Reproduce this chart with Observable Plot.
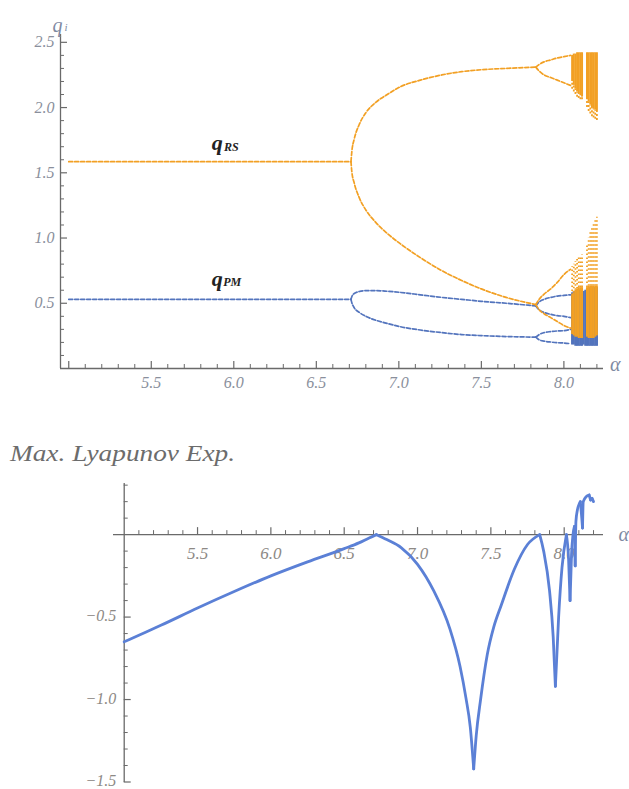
<!DOCTYPE html>
<html><head><meta charset="utf-8">
<script src="https://cdn.jsdelivr.net/npm/d3@7"></script>
<script src="https://cdn.jsdelivr.net/npm/@observablehq/plot@0.6"></script>
<style>
body{margin:0;background:#fff;width:629px;height:789px;overflow:hidden;position:relative}
#top{position:absolute;left:0;top:0}
#bot{position:absolute;left:0;top:470px}
#title{position:absolute;left:10px;top:441px;font-family:"Liberation Serif","Times New Roman","DejaVu Serif",serif;font-style:italic;font-size:24px;line-height:24px;color:#6c6c6c;white-space:nowrap;transform-origin:0 0}
svg{overflow:visible}
</style></head><body>
<div id="top"></div>
<div id="title">Max. Lyapunov Exp.</div>
<div id="bot"></div>
<script>
// ---------------- Top panel: bifurcation diagram (alpha, q) ----------------
const alphaStable = [5.0, 6.71];
const qRSStable = [1.585, 1.585];
const qPMStable = [0.53, 0.53];

const alphaP2 = [6.71, 6.715, 6.73, 6.76, 6.8, 6.86, 6.93, 7.01, 7.13, 7.26, 7.38, 7.5, 7.65, 7.83];
const qRSUpperP2 = [1.585, 1.66, 1.76, 1.87, 1.96, 2.04, 2.10, 2.16, 2.21, 2.25, 2.275, 2.29, 2.30, 2.31];
const qRSLowerP2 = [1.585, 1.51, 1.42, 1.31, 1.215, 1.12, 1.035, 0.955, 0.85, 0.75, 0.675, 0.61, 0.545, 0.49];
const qPMUpperP2 = [0.53, 0.55, 0.575, 0.59, 0.597, 0.597, 0.592, 0.583, 0.565, 0.545, 0.53, 0.515, 0.50, 0.48];
const qPMLowerP2 = [0.53, 0.505, 0.465, 0.43, 0.40, 0.37, 0.345, 0.32, 0.295, 0.275, 0.26, 0.252, 0.245, 0.24];

const alphaP4 = [7.83, 7.85, 7.88, 7.92, 7.96, 8.0, 8.04];
const qRS4a = [2.31, 2.33, 2.35, 2.365, 2.38, 2.39, 2.40];
const qRS4b = [2.31, 2.28, 2.25, 2.23, 2.21, 2.19, 2.17];
const qRS4c = [0.49, 0.53, 0.57, 0.61, 0.66, 0.72, 0.76];
const qRS4d = [0.49, 0.45, 0.42, 0.39, 0.36, 0.33, 0.31];
const qPM4a = [0.48, 0.51, 0.53, 0.545, 0.555, 0.56, 0.565];
const qPM4b = [0.48, 0.45, 0.43, 0.415, 0.405, 0.40, 0.39];
const qPM4c = [0.24, 0.26, 0.275, 0.283, 0.288, 0.29, 0.30];
const qPM4d = [0.24, 0.22, 0.21, 0.203, 0.198, 0.195, 0.19];

// chaotic band (range of visited q per alpha column)
const chaosAlphaRS = [8.05, 8.06, 8.07, 8.08, 8.09, 8.10, 8.11, 8.14, 8.15, 8.16, 8.17, 8.18, 8.19, 8.20];
const rsHiTop = [2.40, 2.41, 2.41, 2.42, 2.42, 2.42, 2.42, 2.42, 2.42, 2.42, 2.42, 2.42, 2.42, 2.42];
const rsHiDenseBot = [2.20, 2.17, 2.14, 2.12, 2.10, 2.09, 2.08, 2.06, 2.04, 2.02, 2.00, 1.99, 1.98, 1.97];
const rsHiBot = [2.14, 2.12, 2.10, 2.08, 2.07, 2.06, 2.06, 2.00, 1.97, 1.95, 1.93, 1.92, 1.91, 1.90];
const rsLoDenseTop = [0.56, 0.58, 0.60, 0.61, 0.62, 0.62, 0.62, 0.62, 0.63, 0.63, 0.63, 0.63, 0.63, 0.63];
const rsLoTop = [0.78, 0.80, 0.82, 0.84, 0.85, 0.86, 0.87, 0.95, 1.00, 1.04, 1.08, 1.11, 1.14, 1.16];
const rsLoBot = [0.26, 0.25, 0.24, 0.24, 0.23, 0.23, 0.23, 0.24, 0.23, 0.23, 0.23, 0.23, 0.24, 0.25];
const chaosAlphaPM = [8.05, 8.06, 8.07, 8.08, 8.09, 8.10, 8.11, 8.12, 8.13, 8.14, 8.15, 8.16, 8.17, 8.18, 8.19, 8.20];
const pmTop = [0.58, 0.59, 0.59, 0.60, 0.60, 0.60, 0.60, 0.59, 0.60, 0.61, 0.61, 0.62, 0.62, 0.62, 0.62, 0.62];
const pmBot = [0.18, 0.18, 0.17, 0.17, 0.17, 0.17, 0.17, 0.18, 0.17, 0.17, 0.17, 0.17, 0.17, 0.17, 0.17, 0.17];

const topXMajor = [5.0, 5.5, 6.0, 6.5, 7.0, 7.5, 8.0];
const topXLabels = ["5.5", "6.0", "6.5", "7.0", "7.5", "8.0"];
const topYMajor = [0.5, 1.0, 1.5, 2.0, 2.5];
const topYLabels = ["0.5", "1.0", "1.5", "2.0", "2.5"];

// ---------------- Bottom panel: max Lyapunov exponent ----------------
const lyapAlpha = [5.0,5.1,5.25,5.5,5.75,6.0,6.25,6.5,6.6,6.67,6.72,6.79,6.89,7.0,7.11,7.22,7.29,7.33,7.36,7.383,7.40,7.43,7.475,7.52,7.57,7.66,7.75,7.833,7.86,7.90,7.925,7.94,7.962,7.985,8.015,8.03,8.04,8.05,8.06,8.07,8.075,8.08,8.09,8.10,8.11,8.12,8.125,8.13,8.15,8.17,8.18,8.19,8.20];
const lyapValue = [-0.65,-0.61,-0.55,-0.445,-0.345,-0.25,-0.165,-0.085,-0.05,-0.02,0,-0.03,-0.08,-0.18,-0.34,-0.57,-0.80,-0.99,-1.17,-1.42,-1.22,-1.00,-0.73,-0.56,-0.43,-0.21,-0.06,0,-0.10,-0.34,-0.62,-0.92,-0.50,-0.20,0,-0.15,-0.40,-0.12,0,0.05,-0.19,0.08,0.15,0.18,0.2,0.1,0.04,0.2,0.23,0.24,0.21,0.22,0.20];

const botXMajor = [5.5, 6.0, 6.5, 7.0, 7.5, 8.0];
const botXLabels = ["5.5", "6.0", "6.5", "7.0", "7.5", "8.0"];
const botYMajor = [-1.5, -1.0, -0.5];
const botYLabels = ["\u22121.5", "\u22121.0", "\u22120.5"];

// ---------------- styles ----------------
const RS = "#f2a024", PM = "#5374bd", LY = "#5b80d6";
const AX = "#6a6a6a";
const SERIF = "'Liberation Serif', 'Times New Roman', 'DejaVu Serif', serif";
const LABTOP = "#8a8f9c", LABBOT = "#8d8985";

const pts = (A, Q) => A.map((a, i) => ({a, q: Q[i]}));
const branch = (A, Q, color) => Plot.line(pts(A, Q), {x: "a", y: "q", stroke: color, strokeWidth: 1.7, strokeDasharray: "4,2", curve: "monotone-x"});

// ---------- top plot ----------
const tX = [4.95, 8.24], tY = [0, 2.56];
const tML = 60, tMR = 26, tMT = 34, tMB = 32, tW = 629, tH = 400;
const tKy = (tH - tMT - tMB) / (tY[1] - tY[0]);
const tKx = (tW - tML - tMR) / (tX[1] - tX[0]);
const isHalf = v => Math.abs(v * 2 - Math.round(v * 2)) < 1e-6;
const tMinorX = d3.range(51, 83).map(i => i / 10).filter(v => !isHalf(v));
const tMinorY = d3.range(1, 25).map(i => i / 10).filter(v => !isHalf(v));

const chaosRS = chaosAlphaRS.map((a, i) => ({a, hiT: rsHiTop[i], hiD: rsHiDenseBot[i], hiB: rsHiBot[i], loD: rsLoDenseTop[i], loT: rsLoTop[i], loB: rsLoBot[i]}));
const chaosPM = chaosAlphaPM.map((a, i) => ({a, pT: pmTop[i], pB: pmBot[i]}));

const txt = (o) => Object.assign({fontStyle: "italic", fontFamily: SERIF}, o);

const topPlot = Plot.plot({
  width: tW, height: tH, marginLeft: tML, marginRight: tMR, marginTop: tMT, marginBottom: tMB,
  x: {domain: tX, axis: null}, y: {domain: tY, axis: null},
  style: {background: "transparent", overflow: "visible"},
  marks: [
    Plot.ruleY([0], {stroke: AX, strokeWidth: 1.3}),
    Plot.ruleX([tX[0]], {stroke: AX, strokeWidth: 1.3}),
    Plot.ruleX(topXMajor, {x: d => d, y1: 0, y2: 7 / tKy, stroke: AX, strokeWidth: 1.2}),
    Plot.ruleX(tMinorX, {x: d => d, y1: 0, y2: 4 / tKy, stroke: AX, strokeWidth: 1}),
    Plot.ruleY(topYMajor, {y: d => d, x1: () => tX[0], x2: () => tX[0] + 7 / tKx, stroke: AX, strokeWidth: 1.2}),
    Plot.ruleY(tMinorY, {y: d => d, x1: () => tX[0], x2: () => tX[0] + 4 / tKx, stroke: AX, strokeWidth: 1}),
    Plot.text(topXLabels, txt({x: d => +d, y: () => 0, text: d => d, dy: 14, fontSize: 16, fill: LABTOP})),
    Plot.text(topYLabels, txt({y: d => +d, x: () => tX[0], text: d => d, dx: -6, textAnchor: "end", fontSize: 16, fill: LABTOP})),
    Plot.text(["q"], txt({frameAnchor: "top-left", dx: -8, dy: -17, fontSize: 20, fill: "#7f8aa2"})),
    Plot.text(["i"], txt({frameAnchor: "top-left", dx: 4, dy: -11, fontSize: 11, fill: "#7f8aa2"})),
    Plot.text(["\u03b1"], txt({frameAnchor: "bottom-right", dx: 17, dy: 2, fontSize: 20, fill: "#7f8aa2"})),
    // PM branches (drawn first)
    branch(alphaStable, qPMStable, PM),
    branch(alphaP2, qPMUpperP2, PM),
    branch(alphaP2, qPMLowerP2, PM),
    branch(alphaP4, qPM4a, PM), branch(alphaP4, qPM4b, PM), branch(alphaP4, qPM4c, PM), branch(alphaP4, qPM4d, PM),
    Plot.ruleX(chaosPM, {x: "a", y1: "pB", y2: "pT", stroke: PM, strokeWidth: 2.2}),
    // RS branches
    branch(alphaStable, qRSStable, RS),
    branch(alphaP2, qRSUpperP2, RS),
    branch(alphaP2, qRSLowerP2, RS),
    branch(alphaP4, qRS4a, RS), branch(alphaP4, qRS4b, RS), branch(alphaP4, qRS4c, RS), branch(alphaP4, qRS4d, RS),
    Plot.ruleX(chaosRS, {x: "a", y1: "hiD", y2: "hiT", stroke: RS, strokeWidth: 2}),
    Plot.ruleX(chaosRS, {x: "a", y1: "hiB", y2: "hiD", stroke: RS, strokeWidth: 1.8, strokeDasharray: "2,2"}),
    Plot.ruleX(chaosRS, {x: "a", y1: "loB", y2: "loD", stroke: RS, strokeWidth: 2}),
    Plot.ruleX(chaosRS, {x: "a", y1: "loD", y2: "loT", stroke: RS, strokeWidth: 1.8, strokeDasharray: "1.5,2.5"}),
    // series labels
    Plot.text(["q"], txt({x: () => 5.9, y: () => 1.73, fontSize: 22, fontWeight: "bold", fill: "#222"})),
    Plot.text(["RS"], txt({x: () => 5.9, y: () => 1.73, dx: 14, dy: 4, fontSize: 12, fontWeight: "bold", fill: "#222"})),
    Plot.text(["q"], txt({x: () => 5.9, y: () => 0.69, fontSize: 22, fontWeight: "bold", fill: "#222"})),
    Plot.text(["PM"], txt({x: () => 5.9, y: () => 0.69, dx: 15, dy: 4, fontSize: 12, fontWeight: "bold", fill: "#222"}))
  ]
});
document.getElementById("top").appendChild(topPlot);

// ---------- bottom plot ----------
const bX = [4.927, 8.268], bY = [-1.503, 0.31];
const bML = 113, bMR = 26, bMT = 13, bMB = 7, bW = 629, bH = 319;
const bKy = (bH - bMT - bMB) / (bY[1] - bY[0]);
const bKx = (bW - bML - bMR) / (bX[1] - bX[0]);
const bMinorX = d3.range(51, 83).map(i => i / 10).filter(v => !isHalf(v));
const bMinorY = d3.range(-14, 4).map(i => i / 10).filter(v => v !== 0 && !isHalf(v));

// split the Lyapunov curve at its extrema (cusps) so each piece is monotone
const lyapPts = lyapAlpha.map((a, i) => ({a, v: lyapValue[i]}));
const cutIdx = [0];
for (let i = 1; i < lyapPts.length - 1; i++) {
  const p = lyapPts[i - 1].v, c = lyapPts[i].v, n = lyapPts[i + 1].v;
  if ((c - p) * (n - c) < 0) cutIdx.push(i);
}
cutIdx.push(lyapPts.length - 1);
const lyapSegs = [];
for (let s = 0; s < cutIdx.length - 1; s++) {
  for (let i = cutIdx[s]; i <= cutIdx[s + 1]; i++) lyapSegs.push({...lyapPts[i], seg: s});
}

const botPlot = Plot.plot({
  width: bW, height: bH, marginLeft: bML, marginRight: bMR, marginTop: bMT, marginBottom: bMB,
  x: {domain: bX, axis: null}, y: {domain: bY, axis: null},
  style: {background: "transparent", overflow: "visible"},
  marks: [
    Plot.ruleY([0], {stroke: AX, strokeWidth: 1.3}),
    Plot.ruleX([5.0], {stroke: AX, strokeWidth: 1.3}),
    Plot.ruleX(botXMajor, {x: d => d, y1: 0, y2: 7 / bKy, stroke: AX, strokeWidth: 1.2}),
    Plot.ruleX(bMinorX, {x: d => d, y1: 0, y2: 4 / bKy, stroke: AX, strokeWidth: 1}),
    Plot.ruleY(botYMajor, {y: d => d, x1: () => 5.0, x2: () => 5.0 + 7 / bKx, stroke: AX, strokeWidth: 1.2}),
    Plot.ruleY(bMinorY, {y: d => d, x1: () => 5.0, x2: () => 5.0 + 4 / bKx, stroke: AX, strokeWidth: 1}),
    Plot.text(botXLabels, txt({x: d => +d, y: () => 0, text: d => d, dy: 19, fontSize: 17, fill: LABBOT})),
    Plot.text(botYLabels, txt({y: d => +d.replace("\u2212", "-"), x: () => 5.0, text: d => d, dx: -8, dy: -1, textAnchor: "end", fontSize: 16, fill: LABBOT})),
    Plot.text(["\u03b1"], txt({x: () => bX[1], y: () => 0, dx: 15, textAnchor: "start", fontSize: 20, fill: "#7f8aa2"})),
    Plot.line(lyapSegs, {x: "a", y: "v", z: "seg", stroke: LY, strokeWidth: 2.8, strokeLinejoin: "round", strokeLinecap: "round", curve: "monotone-x"})
  ]
});
document.getElementById("bot").appendChild(botPlot);

// fit title width to the reference (about 225px)
const t = document.getElementById("title");
const w = t.getBoundingClientRect().width;
t.style.transform = `scaleX(${225 / w})`;
</script>
</body></html>
